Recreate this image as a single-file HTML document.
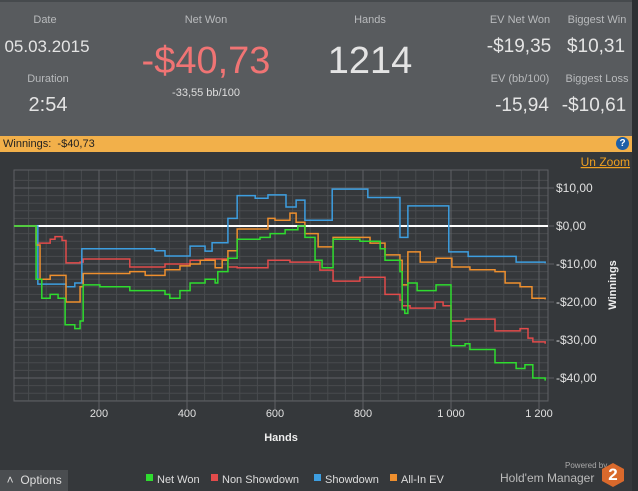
<!DOCTYPE html>
<html><head><meta charset="utf-8">
<style>
html,body{margin:0;padding:0}
body{width:638px;height:491px;overflow:hidden;background:#35383b;font-family:"Liberation Sans",sans-serif;position:relative}
.hdr{position:absolute;left:0;top:0;width:638px;height:136px;background:#585b5e;border-top:2px solid #464a4d;box-sizing:border-box}
.t{position:absolute;text-align:center;color:#b8babc;font-size:11px;white-space:nowrap;transform:translateX(-50%)}
.v{position:absolute;text-align:center;color:#e4e4e4;font-size:20px;white-space:nowrap;transform:translateX(-50%)}
.bar{position:absolute;left:0;top:136px;width:632px;height:16px;background:#f2b04a;font-size:11px;color:#222;line-height:16px;padding-left:3px;box-sizing:border-box}
.help{position:absolute;right:3px;top:1px;width:13px;height:13px;border-radius:50%;background:#1d5fa8;color:#fff;font-size:10px;font-weight:bold;text-align:center;line-height:13px}
.rside{position:absolute;left:632px;top:0;width:6px;height:491px;background:#2d3033}
</style></head><body>
<div class="hdr">
 <div class="t" style="left:45px;top:12px">Date</div>
 <div class="v" style="left:47px;top:35px;font-size:17px">05.03.2015</div>
 <div class="t" style="left:48px;top:71px">Duration</div>
 <div class="v" style="left:48px;top:92px">2:54</div>
 <div class="t" style="left:206px;top:12px">Net Won</div>
 <div class="v" style="left:206px;top:38px;font-size:38px;color:#f07474">-$40,73</div>
 <div class="t" style="left:206px;top:85px;color:#ddd">-33,55 bb/100</div>
 <div class="t" style="left:370px;top:12px">Hands</div>
 <div class="v" style="left:370px;top:38px;font-size:38px">1214</div>
 <div class="t" style="left:520px;top:12px">EV Net Won</div>
 <div class="v" style="left:519px;top:34px;font-size:19px">-$19,35</div>
 <div class="t" style="left:597px;top:12px">Biggest Win</div>
 <div class="v" style="left:596px;top:34px;font-size:19px">$10,31</div>
 <div class="t" style="left:520px;top:71px">EV (bb/100)</div>
 <div class="v" style="left:522px;top:93px;font-size:19px">-15,94</div>
 <div class="t" style="left:597px;top:71px">Biggest Loss</div>
 <div class="v" style="left:594px;top:93px;font-size:19px">-$10,61</div>
</div>
<div class="bar">Winnings:&nbsp; -$40,73<div class="help">?</div></div>
<div class="rside"></div>
<svg id="chart" width="632" height="338" style="position:absolute;left:0;top:152px"></svg>
<div style="position:absolute;left:0;top:470px;width:68px;height:21px;background:#4a4d50;color:#ddd;font-size:12px;line-height:21px">&nbsp;&nbsp;˄&nbsp;&nbsp;Options</div>
<div style="position:absolute;left:565px;top:461px;color:#aaa;font-size:8px">Powered by</div>
<div style="position:absolute;left:500px;top:471px;color:#bbb;font-size:12px">Hold'em Manager</div>
<div style="position:absolute;left:602px;top:463px;width:22px;height:24px;background:#d9692c;color:#fff;font-weight:bold;font-size:17px;text-align:center;line-height:24px;clip-path:polygon(50% 0,100% 25%,100% 75%,50% 100%,0 75%,0 25%)">2</div>
<script>
const netH=[0,55,57,70,89,107,123,145,157,164,202,270,350,361,384,407,441,464,470,493,514,566,589,623,652,668,691,707,732,793,839,850,884,889,895,902,923,966,1000,1032,1043,1100,1148,1168,1186,1214];
const netV=[0,0,-14,-19,-18,-19,-26,-27,-25,-15.5,-16,-17,-18,-19,-17,-15,-14,-15,-12,-8.5,-3.5,-3,-2,-1,0,-3,-9,-11,-3.5,-4,-6,-9,-12,-22,-23,-15,-17,-15.5,-31.5,-31,-32.5,-36,-37.5,-36.5,-40,-40.7];
const nsdH=[0,57,89,100,116,125,157,164,270,350,407,441,493,514,584,634,702,732,793,850,884,889,907,927,964,982,1000,1032,1100,1157,1175,1186,1214];
const nsdV=[0,-4.5,-3.5,-2.8,-3.8,-9.7,-9.5,-8.7,-10.8,-10,-9,-8.7,-10.8,-11,-9,-9.5,-11.6,-14.5,-13.5,-18,-19.5,-21,-21.6,-21.6,-20,-21,-25,-24.5,-27.6,-27,-29.5,-30.5,-31];
const sdH=[0,57,61,125,145,161,327,350,373,407,441,457,493,514,555,584,625,648,668,730,811,884,902,995,1039,1148,1214];
const sdV=[0,0,-15.3,-16,-15,-6,-6.5,-7.9,-7.9,-5.3,-6.6,-4.4,2,8,7.3,8.2,5,6.8,1.5,9.7,7.5,-3,5.3,-6.8,-8,-9.5,-9.8];
const evH=[0,55,57,66,89,125,157,164,270,305,350,384,407,430,464,480,493,514,584,600,634,648,668,698,732,816,850,884,889,902,930,966,1002,1043,1100,1123,1157,1184,1214];
const evV=[0,0,-5,-14,-13,-20,-16,-12.5,-12,-13,-11.5,-10.5,-10,-9,-11,-9,-6.5,-0.8,2,1.5,3.4,1,-2,-5.5,-3,-4.5,-7.6,-9,-15.5,-6.8,-9.5,-8.5,-10.8,-11.5,-12,-15,-16,-19,-19.3];
const xTicks=[200,400,600,800,1000,1200];
const xTickLabels=["200","400","600","800","1 000","1 200"];
const yTicks=[10,0,-10,-20,-30,-40];
const yTickLabels=["$10,00","$0,00","-$10,00","-$20,00","-$30,00","-$40,00"];

const svg=document.getElementById('chart');
const NS='http://www.w3.org/2000/svg';
const OY=152, L=14,R=548,T=170-OY,B=401-OY;
const xs=h=>11+h*0.44;
const ys=v=>(226-OY)-v*3.8;
function mk(tag,attrs){const e=document.createElementNS(NS,tag);for(const k in attrs)e.setAttribute(k,attrs[k]);svg.appendChild(e);return e;}
for(let h=40;h<1240;h+=40){const x=xs(h);if(x<=L||x>=R)continue;
 const g=mk('line',{x1:x,x2:x,y1:T,y2:B,stroke:'#484b4e','stroke-width':1});
 
 }
for(let v=12;v>=-48;v-=2){const y=ys(v);if(y<=T||y>=B)continue;
 const g=mk('line',{x1:L,x2:R,y1:y,y2:y,stroke:'#484b4e','stroke-width':1});
 
 }
xTicks.forEach((h,i)=>{const x=xs(h);
 const g=mk('line',{x1:x,x2:x,y1:T,y2:B+8,stroke:'#5e6164','stroke-width':1});
 
 
 const t=mk('text',{x:x,y:B+16,fill:'#e0e0e0','font-size':11,'text-anchor':'middle','font-family':'Liberation Sans'});
 t.textContent=xTickLabels[i];
 
 });
yTicks.forEach((v,i)=>{const y=ys(v);
 const g=mk('line',{x1:L,x2:R+6,y1:y,y2:y,stroke:'#5e6164','stroke-width':1});
 
 
 const t=mk('text',{x:R+8,y:y+4,fill:'#e0e0e0','font-size':12,'font-family':'Liberation Sans'});
 t.textContent=yTickLabels[i];
 
 });
const fr=mk('rect',{x:L,y:T,width:R-L,height:B-T,fill:'none',stroke:'#5e6164'});


const zl=mk('line',{x1:L,x2:R,y1:ys(0),y2:ys(0),stroke:'#ffffff','stroke-width':2});


function step(H,V,color,name){let d='';for(let i=0;i<H.length;i++){const x=Math.max(L,xs(H[i])),y=ys(V[i]);
 if(i===0)d='M'+x+','+y;else d+=' H'+x+' V'+y;}
 const p=mk('path',{d:d,fill:'none',stroke:color,'stroke-width':1.5});
 
 }
step(nsdH,nsdV,'#e24b4b','non-showdown-line');
step(sdH,sdV,'#3d9ee0','showdown-line');
step(evH,evV,'#ee8f2e','all-in-ev-line');
step(netH,netV,'#2fdc2f','net-won-line');
const xt=mk('text',{x:281,y:289,fill:'#eee','font-size':11,'font-weight':'bold','text-anchor':'middle','font-family':'Liberation Sans'});
xt.textContent='Hands';


const yt=mk('text',{x:0,y:0,fill:'#eee','font-size':11,'font-weight':'bold','text-anchor':'middle','font-family':'Liberation Sans',transform:'translate(616,133) rotate(-90)'});
yt.textContent='Winnings';


const uz=mk('text',{x:630,y:14,fill:'#f0a020','font-size':12,'text-anchor':'end','text-decoration':'underline','font-family':'Liberation Sans'});
uz.textContent='Un Zoom';


const leg=[['Net Won','#2fdc2f',146],['Non Showdown','#e24b4b',211],['Showdown','#3d9ee0',314],['All-In EV','#ee8f2e',390]];
leg.forEach(l=>{const r=mk('rect',{x:l[2],y:322,width:7,height:7,fill:l[1]});
 
 
 const t=mk('text',{x:l[2]+11,y:331,fill:'#ddd','font-size':11,'font-family':'Liberation Sans'});
 t.textContent=l[0];
 
 });
</script>
</body></html>
